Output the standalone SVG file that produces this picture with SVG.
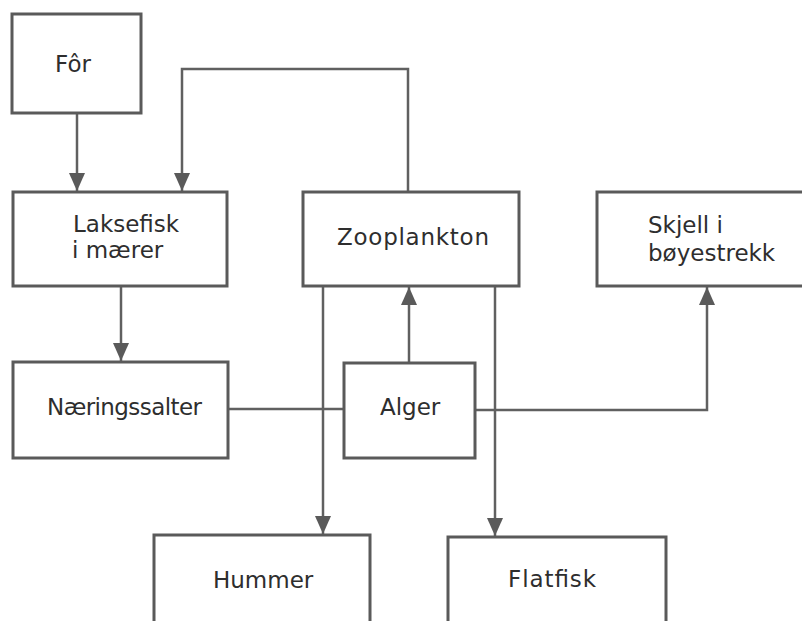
<svg xmlns="http://www.w3.org/2000/svg" width="802" height="621" viewBox="0 0 802 621">
<defs>
<marker id="arr" markerUnits="userSpaceOnUse" markerWidth="19" markerHeight="18" refX="18" refY="9" orient="auto" viewBox="0 0 19 18">
<path d="M0,1 L18,9 L0,17 Z" fill="#5a5a5a"/>
</marker>
<style>
.box{fill:#fff;stroke:#5a5a5a;stroke-width:3}
.ln{fill:none;stroke:#606060;stroke-width:2.5}
.t{font-family:"DejaVu Sans",sans-serif;font-size:23px;fill:#2e2e2e}
</style>
</defs>
<rect width="802" height="621" fill="#fff"/>
<g id="connectors">
<path class="ln" d="M77,113 V191" marker-end="url(#arr)"/>
<path class="ln" d="M408,192 V69 H182 V191" marker-end="url(#arr)"/>
<path class="ln" d="M121,286 V361" marker-end="url(#arr)"/>
<path class="ln" d="M228,409 H344"/>
<path class="ln" d="M409,363 V287" marker-end="url(#arr)"/>
<path class="ln" d="M475,410 H707 V287" marker-end="url(#arr)"/>
<path class="ln" d="M323,286 V534" marker-end="url(#arr)"/>
<path class="ln" d="M495,286 V536" marker-end="url(#arr)"/>
</g>
<g id="for">
<rect class="box" x="12" y="14" width="129" height="99"/>
<text class="t" x="55" y="72">Fôr</text>
</g>
<g id="laksefisk">
<rect class="box" x="13" y="192" width="214" height="94"/>
<text class="t" x="73" y="232">Laksefisk</text>
<text class="t" x="72" y="258">i mærer</text>
</g>
<g id="zooplankton">
<rect class="box" x="303" y="192" width="216" height="94"/>
<text class="t" x="337" y="245" textLength="152" lengthAdjust="spacing">Zooplankton</text>
</g>
<g id="skjell">
<rect class="box" x="597" y="192" width="215" height="94"/>
<text class="t" x="648" y="233">Skjell i</text>
<text class="t" x="648" y="261">bøyestrekk</text>
</g>
<g id="naeringssalter">
<rect class="box" x="13" y="362" width="215" height="96"/>
<text class="t" x="47" y="415" textLength="155" lengthAdjust="spacing">Næringssalter</text>
</g>
<g id="alger">
<rect class="box" x="344" y="363" width="131" height="95"/>
<text class="t" x="380" y="415">Alger</text>
</g>
<g id="hummer">
<rect class="box" x="154" y="535" width="216" height="110"/>
<text class="t" x="213" y="588">Hummer</text>
</g>
<g id="flatfisk">
<rect class="box" x="448" y="537" width="218" height="110"/>
<text class="t" x="508" y="587" textLength="88" lengthAdjust="spacing">Flatfisk</text>
</g>
</svg>
